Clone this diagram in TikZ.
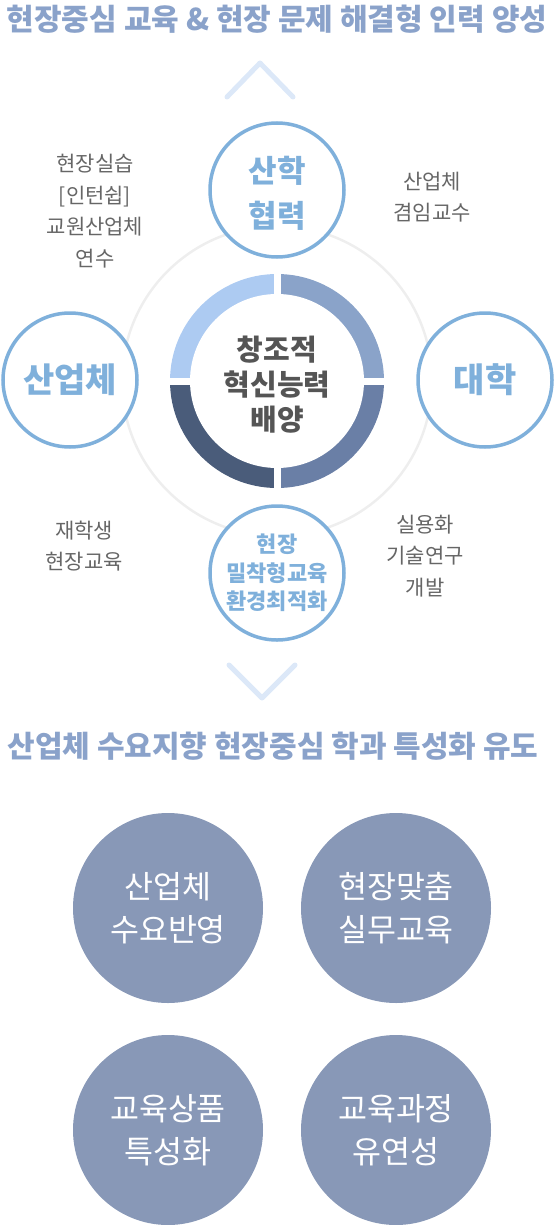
\documentclass[tikz,border=0pt]{standalone}
\usepackage{fontspec}
\setmainfont{Noto Sans CJK KR}
\definecolor{titleblue}{HTML}{8AA2CA}
\definecolor{chev}{HTML}{DCE8F8}
\definecolor{cblue}{HTML}{7FB0DB}
\definecolor{ringgray}{HTML}{EEEEEE}
\definecolor{qa}{HTML}{ADCBF2}
\definecolor{qb}{HTML}{8AA3C9}
\definecolor{qc}{HTML}{6A7FA6}
\definecolor{qd}{HTML}{4A5C7A}
\definecolor{ctext}{HTML}{555555}
\definecolor{sidegray}{HTML}{666666}
\definecolor{fillc}{HTML}{8898B7}
\begin{document}
\begin{tikzpicture}[x=1pt,y=-1pt,
  titletext/.style={text=titleblue,font=\bfseries\fontsize{30}{34}\selectfont,inner sep=0},
  chevline/.style={draw=chev,line width=5pt,line cap=round,line join=round},
  outerc/.style={circle,draw=cblue,line width=3.5pt,fill=white,minimum size=134pt,inner sep=0,text=cblue,align=center},
  bluetext/.style={text=cblue,align=center,inner sep=0},
  sidetext/.style={text=sidegray,font=\fontsize{21}{31.5}\selectfont,align=center,inner sep=0},
  fillcirc/.style={circle,fill=fillc,minimum size=190pt,inner sep=0,text=white,align=center,font=\fontsize{31.5}{43}\selectfont}]
\useasboundingbox (0,0) rectangle (555,1225);
\node[titletext] (title) at (277,19) {현장중심 교육 \& 현장 문제 해결형 인력 양성};
\coordinate (u1) at (227,97);
\coordinate (u2) at (260,63);
\coordinate (u3) at (293,97);
\draw[chevline] (u1) -- (u2) -- (u3);
\coordinate (c) at (277,381);
\node[circle,draw=ringgray,line width=2.5pt,minimum size=310pt,inner sep=0] (ring) at (c) {};
\fill[qa] (c) -- ++(90:107pt) arc[start angle=90,end angle=180,radius=107pt] -- cycle;
\fill[qb] (c) -- ++(0:107pt) arc[start angle=0,end angle=90,radius=107pt] -- cycle;
\fill[qc] (c) -- ++(270:107pt) arc[start angle=270,end angle=360,radius=107pt] -- cycle;
\fill[qd] (c) -- ++(180:107pt) arc[start angle=180,end angle=270,radius=107pt] -- cycle;
\draw[white,line width=7pt] (c) ++(0,-112) -- ++(0,224);
\draw[white,line width=7pt] (c) ++(-112,0) -- ++(224,0);
\node[circle,fill=white,minimum size=174pt,inner sep=0] (center) at (c) {};
\node[text=ctext,align=center,inner sep=0,font=\bfseries\fontsize{29}{35}\selectfont] (centertext) at (277,385) {창조적\\혁신능력\\배양};
\node[outerc] (top) at (277,190) {};
\node[bluetext,font=\bfseries\fontsize{31}{45}\selectfont] (toptext) at (277,193) {산학\\협력};
\node[outerc,font=\bfseries\fontsize{34}{40}\selectfont] (left) at (70,380) {산업체};
\node[outerc,font=\bfseries\fontsize{34}{40}\selectfont] (right) at (485,380) {대학};
\node[outerc,font=\bfseries\fontsize{22}{28.5}\selectfont] (bottom) at (277,573) {현장\\밀착형교육\\환경최적화};
\node[sidetext] (l1) at (95,211) {현장실습\\{[}인턴쉽{]}\\교원산업체\\연수};
\node[sidetext] (l2) at (432,197) {산업체\\겸임교수};
\node[sidetext] (l3) at (84,546) {재학생\\현장교육};
\node[sidetext] (l4) at (425,556) {실용화\\기술연구\\개발};
\coordinate (d1) at (229,665);
\coordinate (d2) at (262,698);
\coordinate (d3) at (295,665);
\draw[chevline] (d1) -- (d2) -- (d3);
\node[titletext] (subtitle) at (273,746) {산업체 수요지향 현장중심 학과 특성화 유도};
\node[fillcirc] (f1) at (168,908) {산업체\\수요반영};
\node[fillcirc] (f2) at (396,908) {현장맞춤\\실무교육};
\node[fillcirc] (f3) at (168,1130) {교육상품\\특성화};
\node[fillcirc] (f4) at (396,1130) {교육과정\\유연성};
\end{tikzpicture}
\end{document}
